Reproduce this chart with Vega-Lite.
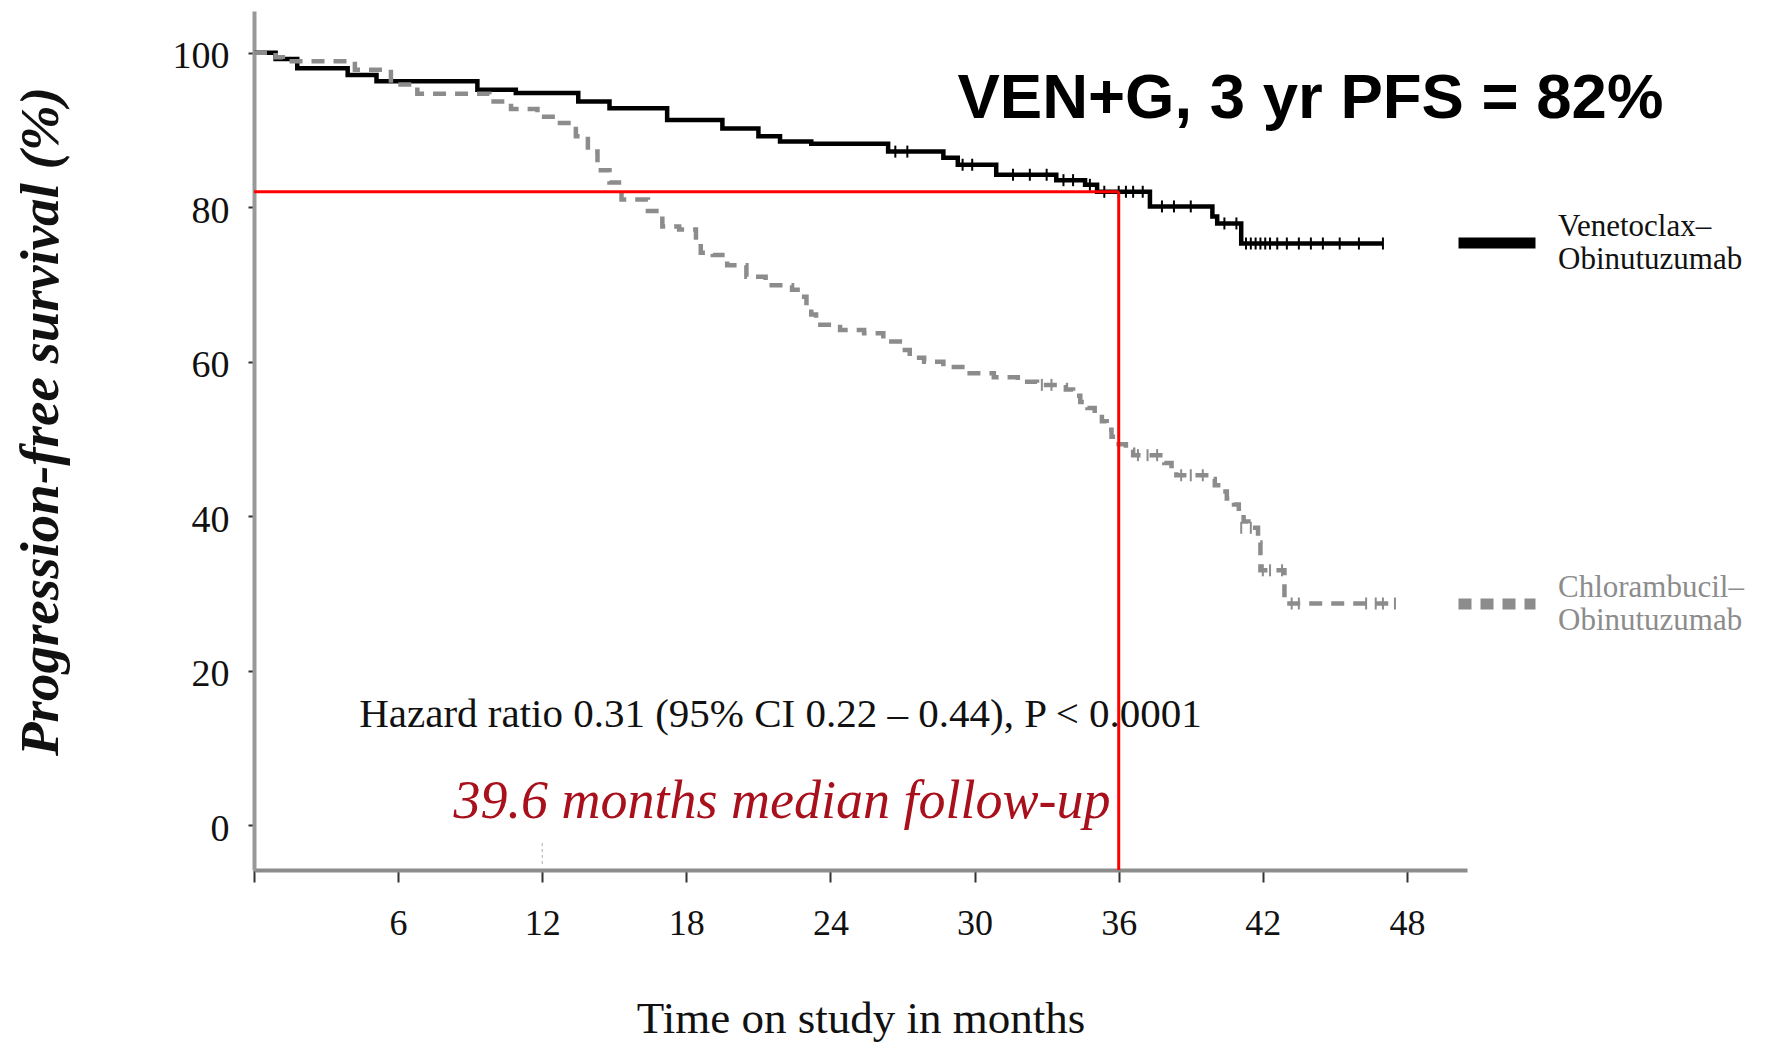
{
  "$schema": "https://vega.github.io/schema/vega-lite/v6.json",
  "autosize": {"type": "none"},
  "width": 1213,
  "height": 859,
  "padding": {"left": 254, "top": 11, "right": 298, "bottom": 172},
  "background": "white",
  "config": {"view": {"stroke": null}},
  "datasets": {
    "km": [
      {"month": 0, "pfs": 100, "arm": "Venetoclax–Obinutuzumab"},
      {"month": 0.9, "pfs": 99.2, "arm": "Venetoclax–Obinutuzumab"},
      {"month": 1.8, "pfs": 98.0, "arm": "Venetoclax–Obinutuzumab"},
      {"month": 3.9, "pfs": 97.1, "arm": "Venetoclax–Obinutuzumab"},
      {"month": 5.1, "pfs": 96.3, "arm": "Venetoclax–Obinutuzumab"},
      {"month": 9.3, "pfs": 95.2, "arm": "Venetoclax–Obinutuzumab"},
      {"month": 10.9, "pfs": 94.8, "arm": "Venetoclax–Obinutuzumab"},
      {"month": 13.5, "pfs": 93.7, "arm": "Venetoclax–Obinutuzumab"},
      {"month": 14.8, "pfs": 92.8, "arm": "Venetoclax–Obinutuzumab"},
      {"month": 17.2, "pfs": 91.3, "arm": "Venetoclax–Obinutuzumab"},
      {"month": 19.5, "pfs": 90.2, "arm": "Venetoclax–Obinutuzumab"},
      {"month": 21.0, "pfs": 89.2, "arm": "Venetoclax–Obinutuzumab"},
      {"month": 21.9, "pfs": 88.5, "arm": "Venetoclax–Obinutuzumab"},
      {"month": 23.2, "pfs": 88.2, "arm": "Venetoclax–Obinutuzumab"},
      {"month": 26.4, "pfs": 87.2, "arm": "Venetoclax–Obinutuzumab"},
      {"month": 28.7, "pfs": 86.4, "arm": "Venetoclax–Obinutuzumab"},
      {"month": 29.3, "pfs": 85.5, "arm": "Venetoclax–Obinutuzumab"},
      {"month": 30.9, "pfs": 84.2, "arm": "Venetoclax–Obinutuzumab"},
      {"month": 33.4, "pfs": 83.5, "arm": "Venetoclax–Obinutuzumab"},
      {"month": 34.6, "pfs": 82.9, "arm": "Venetoclax–Obinutuzumab"},
      {"month": 35.1, "pfs": 82.0, "arm": "Venetoclax–Obinutuzumab"},
      {"month": 37.3, "pfs": 80.1, "arm": "Venetoclax–Obinutuzumab"},
      {"month": 39.9, "pfs": 78.8, "arm": "Venetoclax–Obinutuzumab"},
      {"month": 40.1, "pfs": 77.9, "arm": "Venetoclax–Obinutuzumab"},
      {"month": 41.1, "pfs": 75.3, "arm": "Venetoclax–Obinutuzumab"},
      {"month": 47.0, "pfs": 75.3, "arm": "Venetoclax–Obinutuzumab"},
      {"month": 0, "pfs": 100, "arm": "Chlorambucil–Obinutuzumab"},
      {"month": 0.9, "pfs": 99.4, "arm": "Chlorambucil–Obinutuzumab"},
      {"month": 1.2, "pfs": 98.9, "arm": "Chlorambucil–Obinutuzumab"},
      {"month": 4.2, "pfs": 97.8, "arm": "Chlorambucil–Obinutuzumab"},
      {"month": 5.7, "pfs": 95.9, "arm": "Chlorambucil–Obinutuzumab"},
      {"month": 6.8, "pfs": 94.7, "arm": "Chlorambucil–Obinutuzumab"},
      {"month": 9.8, "pfs": 93.7, "arm": "Chlorambucil–Obinutuzumab"},
      {"month": 10.7, "pfs": 92.7, "arm": "Chlorambucil–Obinutuzumab"},
      {"month": 11.8, "pfs": 91.7, "arm": "Chlorambucil–Obinutuzumab"},
      {"month": 12.6, "pfs": 90.9, "arm": "Chlorambucil–Obinutuzumab"},
      {"month": 13.4, "pfs": 89.2, "arm": "Chlorambucil–Obinutuzumab"},
      {"month": 13.9, "pfs": 87.2, "arm": "Chlorambucil–Obinutuzumab"},
      {"month": 14.3, "pfs": 84.8, "arm": "Chlorambucil–Obinutuzumab"},
      {"month": 14.8, "pfs": 83.2, "arm": "Chlorambucil–Obinutuzumab"},
      {"month": 15.3, "pfs": 81.0, "arm": "Chlorambucil–Obinutuzumab"},
      {"month": 16.4, "pfs": 79.5, "arm": "Chlorambucil–Obinutuzumab"},
      {"month": 17.0, "pfs": 77.5, "arm": "Chlorambucil–Obinutuzumab"},
      {"month": 17.7, "pfs": 77.1, "arm": "Chlorambucil–Obinutuzumab"},
      {"month": 18.4, "pfs": 75.4, "arm": "Chlorambucil–Obinutuzumab"},
      {"month": 18.6, "pfs": 74.1, "arm": "Chlorambucil–Obinutuzumab"},
      {"month": 19.1, "pfs": 73.8, "arm": "Chlorambucil–Obinutuzumab"},
      {"month": 19.7, "pfs": 72.5, "arm": "Chlorambucil–Obinutuzumab"},
      {"month": 20.5, "pfs": 71.0, "arm": "Chlorambucil–Obinutuzumab"},
      {"month": 21.3, "pfs": 69.9, "arm": "Chlorambucil–Obinutuzumab"},
      {"month": 22.4, "pfs": 69.3, "arm": "Chlorambucil–Obinutuzumab"},
      {"month": 22.8, "pfs": 68.4, "arm": "Chlorambucil–Obinutuzumab"},
      {"month": 23.0, "pfs": 67.6, "arm": "Chlorambucil–Obinutuzumab"},
      {"month": 23.2, "pfs": 66.1, "arm": "Chlorambucil–Obinutuzumab"},
      {"month": 23.4, "pfs": 64.8, "arm": "Chlorambucil–Obinutuzumab"},
      {"month": 24.4, "pfs": 64.1, "arm": "Chlorambucil–Obinutuzumab"},
      {"month": 25.4, "pfs": 63.7, "arm": "Chlorambucil–Obinutuzumab"},
      {"month": 26.2, "pfs": 62.6, "arm": "Chlorambucil–Obinutuzumab"},
      {"month": 27.0, "pfs": 61.5, "arm": "Chlorambucil–Obinutuzumab"},
      {"month": 27.3, "pfs": 60.5, "arm": "Chlorambucil–Obinutuzumab"},
      {"month": 27.9, "pfs": 60.0, "arm": "Chlorambucil–Obinutuzumab"},
      {"month": 28.7, "pfs": 59.3, "arm": "Chlorambucil–Obinutuzumab"},
      {"month": 29.6, "pfs": 58.5, "arm": "Chlorambucil–Obinutuzumab"},
      {"month": 30.8, "pfs": 58.0, "arm": "Chlorambucil–Obinutuzumab"},
      {"month": 31.8, "pfs": 57.4, "arm": "Chlorambucil–Obinutuzumab"},
      {"month": 32.6, "pfs": 57.0, "arm": "Chlorambucil–Obinutuzumab"},
      {"month": 33.8, "pfs": 56.4, "arm": "Chlorambucil–Obinutuzumab"},
      {"month": 34.1, "pfs": 55.6, "arm": "Chlorambucil–Obinutuzumab"},
      {"month": 34.4, "pfs": 54.8, "arm": "Chlorambucil–Obinutuzumab"},
      {"month": 34.7, "pfs": 54.0, "arm": "Chlorambucil–Obinutuzumab"},
      {"month": 35.0, "pfs": 53.2, "arm": "Chlorambucil–Obinutuzumab"},
      {"month": 35.3, "pfs": 52.3, "arm": "Chlorambucil–Obinutuzumab"},
      {"month": 35.5, "pfs": 51.2, "arm": "Chlorambucil–Obinutuzumab"},
      {"month": 35.7, "pfs": 50.3, "arm": "Chlorambucil–Obinutuzumab"},
      {"month": 35.9, "pfs": 49.3, "arm": "Chlorambucil–Obinutuzumab"},
      {"month": 36.3, "pfs": 48.6, "arm": "Chlorambucil–Obinutuzumab"},
      {"month": 36.6, "pfs": 47.9, "arm": "Chlorambucil–Obinutuzumab"},
      {"month": 37.9, "pfs": 46.9, "arm": "Chlorambucil–Obinutuzumab"},
      {"month": 38.2, "pfs": 46.2, "arm": "Chlorambucil–Obinutuzumab"},
      {"month": 38.4, "pfs": 45.3, "arm": "Chlorambucil–Obinutuzumab"},
      {"month": 39.8, "pfs": 44.8, "arm": "Chlorambucil–Obinutuzumab"},
      {"month": 40.0, "pfs": 44.0, "arm": "Chlorambucil–Obinutuzumab"},
      {"month": 40.3, "pfs": 43.2, "arm": "Chlorambucil–Obinutuzumab"},
      {"month": 40.5, "pfs": 42.3, "arm": "Chlorambucil–Obinutuzumab"},
      {"month": 40.8, "pfs": 41.5, "arm": "Chlorambucil–Obinutuzumab"},
      {"month": 41.0, "pfs": 40.2, "arm": "Chlorambucil–Obinutuzumab"},
      {"month": 41.2, "pfs": 39.3, "arm": "Chlorambucil–Obinutuzumab"},
      {"month": 41.4, "pfs": 38.5, "arm": "Chlorambucil–Obinutuzumab"},
      {"month": 41.8, "pfs": 36.6, "arm": "Chlorambucil–Obinutuzumab"},
      {"month": 41.9, "pfs": 33.0, "arm": "Chlorambucil–Obinutuzumab"},
      {"month": 42.9, "pfs": 28.7, "arm": "Chlorambucil–Obinutuzumab"},
      {"month": 47.5, "pfs": 28.7, "arm": "Chlorambucil–Obinutuzumab"}
    ],
    "censor": [
      {"month": 26.7, "pfs": 87.2, "arm": "Venetoclax–Obinutuzumab"},
      {"month": 27.2, "pfs": 87.2, "arm": "Venetoclax–Obinutuzumab"},
      {"month": 29.5, "pfs": 85.5, "arm": "Venetoclax–Obinutuzumab"},
      {"month": 29.9, "pfs": 85.5, "arm": "Venetoclax–Obinutuzumab"},
      {"month": 31.6, "pfs": 84.2, "arm": "Venetoclax–Obinutuzumab"},
      {"month": 32.3, "pfs": 84.2, "arm": "Venetoclax–Obinutuzumab"},
      {"month": 33.0, "pfs": 84.2, "arm": "Venetoclax–Obinutuzumab"},
      {"month": 33.7, "pfs": 83.5, "arm": "Venetoclax–Obinutuzumab"},
      {"month": 34.1, "pfs": 83.5, "arm": "Venetoclax–Obinutuzumab"},
      {"month": 34.8, "pfs": 82.9, "arm": "Venetoclax–Obinutuzumab"},
      {"month": 35.4, "pfs": 82.0, "arm": "Venetoclax–Obinutuzumab"},
      {"month": 36.0, "pfs": 82.0, "arm": "Venetoclax–Obinutuzumab"},
      {"month": 36.3, "pfs": 82.0, "arm": "Venetoclax–Obinutuzumab"},
      {"month": 36.6, "pfs": 82.0, "arm": "Venetoclax–Obinutuzumab"},
      {"month": 37.0, "pfs": 82.0, "arm": "Venetoclax–Obinutuzumab"},
      {"month": 37.8, "pfs": 80.1, "arm": "Venetoclax–Obinutuzumab"},
      {"month": 38.3, "pfs": 80.1, "arm": "Venetoclax–Obinutuzumab"},
      {"month": 39.0, "pfs": 80.1, "arm": "Venetoclax–Obinutuzumab"},
      {"month": 40.4, "pfs": 77.9, "arm": "Venetoclax–Obinutuzumab"},
      {"month": 40.9, "pfs": 77.9, "arm": "Venetoclax–Obinutuzumab"},
      {"month": 41.3, "pfs": 75.3, "arm": "Venetoclax–Obinutuzumab"},
      {"month": 41.5, "pfs": 75.3, "arm": "Venetoclax–Obinutuzumab"},
      {"month": 41.7, "pfs": 75.3, "arm": "Venetoclax–Obinutuzumab"},
      {"month": 41.9, "pfs": 75.3, "arm": "Venetoclax–Obinutuzumab"},
      {"month": 42.1, "pfs": 75.3, "arm": "Venetoclax–Obinutuzumab"},
      {"month": 42.3, "pfs": 75.3, "arm": "Venetoclax–Obinutuzumab"},
      {"month": 42.6, "pfs": 75.3, "arm": "Venetoclax–Obinutuzumab"},
      {"month": 43.0, "pfs": 75.3, "arm": "Venetoclax–Obinutuzumab"},
      {"month": 43.5, "pfs": 75.3, "arm": "Venetoclax–Obinutuzumab"},
      {"month": 44.0, "pfs": 75.3, "arm": "Venetoclax–Obinutuzumab"},
      {"month": 44.5, "pfs": 75.3, "arm": "Venetoclax–Obinutuzumab"},
      {"month": 45.2, "pfs": 75.3, "arm": "Venetoclax–Obinutuzumab"},
      {"month": 46.0, "pfs": 75.3, "arm": "Venetoclax–Obinutuzumab"},
      {"month": 47.0, "pfs": 75.3, "arm": "Venetoclax–Obinutuzumab"},
      {"month": 32.8, "pfs": 57.0, "arm": "Chlorambucil–Obinutuzumab"},
      {"month": 33.2, "pfs": 57.0, "arm": "Chlorambucil–Obinutuzumab"},
      {"month": 36.8, "pfs": 47.9, "arm": "Chlorambucil–Obinutuzumab"},
      {"month": 37.2, "pfs": 47.9, "arm": "Chlorambucil–Obinutuzumab"},
      {"month": 37.6, "pfs": 47.9, "arm": "Chlorambucil–Obinutuzumab"},
      {"month": 38.6, "pfs": 45.3, "arm": "Chlorambucil–Obinutuzumab"},
      {"month": 39.0, "pfs": 45.3, "arm": "Chlorambucil–Obinutuzumab"},
      {"month": 39.5, "pfs": 45.3, "arm": "Chlorambucil–Obinutuzumab"},
      {"month": 41.1, "pfs": 38.5, "arm": "Chlorambucil–Obinutuzumab"},
      {"month": 41.5, "pfs": 38.5, "arm": "Chlorambucil–Obinutuzumab"},
      {"month": 42.0, "pfs": 33.0, "arm": "Chlorambucil–Obinutuzumab"},
      {"month": 42.3, "pfs": 33.0, "arm": "Chlorambucil–Obinutuzumab"},
      {"month": 42.8, "pfs": 33.0, "arm": "Chlorambucil–Obinutuzumab"},
      {"month": 43.2, "pfs": 28.7, "arm": "Chlorambucil–Obinutuzumab"},
      {"month": 43.5, "pfs": 28.7, "arm": "Chlorambucil–Obinutuzumab"},
      {"month": 46.3, "pfs": 28.7, "arm": "Chlorambucil–Obinutuzumab"},
      {"month": 46.7, "pfs": 28.7, "arm": "Chlorambucil–Obinutuzumab"},
      {"month": 47.0, "pfs": 28.7, "arm": "Chlorambucil–Obinutuzumab"},
      {"month": 47.5, "pfs": 28.7, "arm": "Chlorambucil–Obinutuzumab"}
    ],
    "ref": [
      {"x": 0, "x2": 36, "y": 82, "y2": 82},
      {"x": 36, "x2": 36, "y": 82, "y2": -5.8}
    ]
  },
  "layer": [
    {
      "data": {"name": "km"},
      "mark": {"type": "line", "interpolate": "step-after", "strokeWidth": 4.5},
      "encoding": {
        "x": {
          "field": "month", "type": "quantitative",
          "scale": {"domain": [0, 50.5], "nice": false, "zero": false},
          "axis": {
            "values": [0, 6, 12, 18, 24, 30, 36, 42, 48],
            "labelExpr": "datum.value == 0 ? '' : datum.label",
            "grid": false,
            "domainColor": "#8c8c8c", "domainWidth": 4,
            "tickColor": "#333333", "tickWidth": 2, "tickSize": 12,
            "labelFont": "Liberation Serif", "labelFontSize": 36, "labelColor": "#111111",
            "labelPadding": 24,
            "title": "Time on study in months",
            "titleFont": "Liberation Serif", "titleFontSize": 45, "titleFontWeight": "normal",
            "titleColor": "#111111", "titleBaseline": "top", "titleY": 126
          }
        },
        "y": {
          "field": "pfs", "type": "quantitative",
          "scale": {"domain": [-5.8, 105.4], "nice": false, "zero": false},
          "axis": {
            "values": [0, 20, 40, 60, 80, 100],
            "grid": false,
            "domainColor": "#999999", "domainWidth": 4,
            "tickColor": "#333333", "tickWidth": 2, "tickSize": 6,
            "labelFont": "Liberation Serif", "labelFontSize": 38, "labelColor": "#111111",
            "labelPadding": 19, "labelOffset": 4,
            "title": "Progression-free survival (%)",
            "titleFont": "Liberation Serif", "titleFontSize": 55, "titleFontWeight": "bold",
            "titleFontStyle": "italic", "titleColor": "#111111",
            "titleAngle": -90, "titleAlign": "center", "titleBaseline": "middle",
            "titleX": -214, "titleY": 410
          }
        },
        "color": {
          "field": "arm", "type": "nominal",
          "scale": {"domain": ["Venetoclax–Obinutuzumab", "Chlorambucil–Obinutuzumab"], "range": ["#000000", "#8c8c8c"]},
          "legend": {
            "orient": "none", "legendX": 1199, "legendY": 188,
            "title": null, "padding": 0,
            "symbolType": "stroke", "symbolSize": 5929, "symbolStrokeWidth": 11, "symbolOpacity": 1,
            "labelFont": "Liberation Serif", "labelFontSize": 31, "labelLineHeight": 42,
            "labelBaseline": "bottom",
            "labelOffset": 17, "labelLimit": 400, "rowPadding": 285,
            "labelExpr": "datum.value == 'Venetoclax–Obinutuzumab' ? ['Venetoclax–', 'Obinutuzumab'] : ['Chlorambucil–', 'Obinutuzumab']",
            "labelColor": {"expr": "datum.value == 'Venetoclax–Obinutuzumab' ? '#111111' : '#8c8c8c'"}
          }
        },
        "strokeDash": {
          "field": "arm", "type": "nominal",
          "scale": {"domain": ["Venetoclax–Obinutuzumab", "Chlorambucil–Obinutuzumab"], "range": [[1, 0], [13, 9]]},
          "legend": null
        }
      }
    },
    {
      "data": {"name": "censor"},
      "mark": {"type": "tick", "orient": "vertical", "size": 12, "thickness": 2, "opacity": 1},
      "encoding": {
        "x": {"field": "month", "type": "quantitative"},
        "y": {"field": "pfs", "type": "quantitative"},
        "color": {"field": "arm", "type": "nominal"}
      }
    },
    {
      "data": {"name": "ref"},
      "mark": {"type": "rule", "color": "#ff0000", "strokeWidth": 3},
      "encoding": {
        "x": {"field": "x", "type": "quantitative"},
        "x2": {"field": "x2"},
        "y": {"field": "y", "type": "quantitative"},
        "y2": {"field": "y2"}
      }
    },
    {
      "data": {"values": [{"x": 12, "y": -2.3, "y2": -5.4}]},
      "mark": {"type": "rule", "color": "#aaaaaa", "strokeWidth": 1, "strokeDash": [3, 3]},
      "encoding": {
        "x": {"field": "x", "type": "quantitative"},
        "y": {"field": "y", "type": "quantitative"},
        "y2": {"field": "y2"}
      }
    },
    {
      "data": {"values": [{"month": 43.98, "pfs": 94.0, "label": "VEN+G, 3 yr PFS = 82%"}]},
      "mark": {"type": "text", "font": "Liberation Sans", "fontWeight": "bold", "fontSize": 63.5, "align": "center", "baseline": "middle", "color": "#000000"},
      "encoding": {
        "x": {"field": "month", "type": "quantitative"},
        "y": {"field": "pfs", "type": "quantitative"},
        "text": {"field": "label"}
      }
    },
    {
      "data": {"values": [{"month": 21.92, "pfs": 14.25, "label": "Hazard ratio 0.31 (95% CI 0.22 – 0.44), P < 0.0001"}]},
      "mark": {"type": "text", "font": "Liberation Serif", "fontSize": 41, "align": "center", "baseline": "middle", "color": "#111111"},
      "encoding": {
        "x": {"field": "month", "type": "quantitative"},
        "y": {"field": "pfs", "type": "quantitative"},
        "text": {"field": "label"}
      }
    },
    {
      "data": {"values": [{"month": 21.98, "pfs": 3.0, "label": "39.6 months median follow-up"}]},
      "mark": {"type": "text", "font": "Liberation Serif", "fontStyle": "italic", "fontSize": 54, "align": "center", "baseline": "middle", "color": "#a8101c"},
      "encoding": {
        "x": {"field": "month", "type": "quantitative"},
        "y": {"field": "pfs", "type": "quantitative"},
        "text": {"field": "label"}
      }
    }
  ]
}
